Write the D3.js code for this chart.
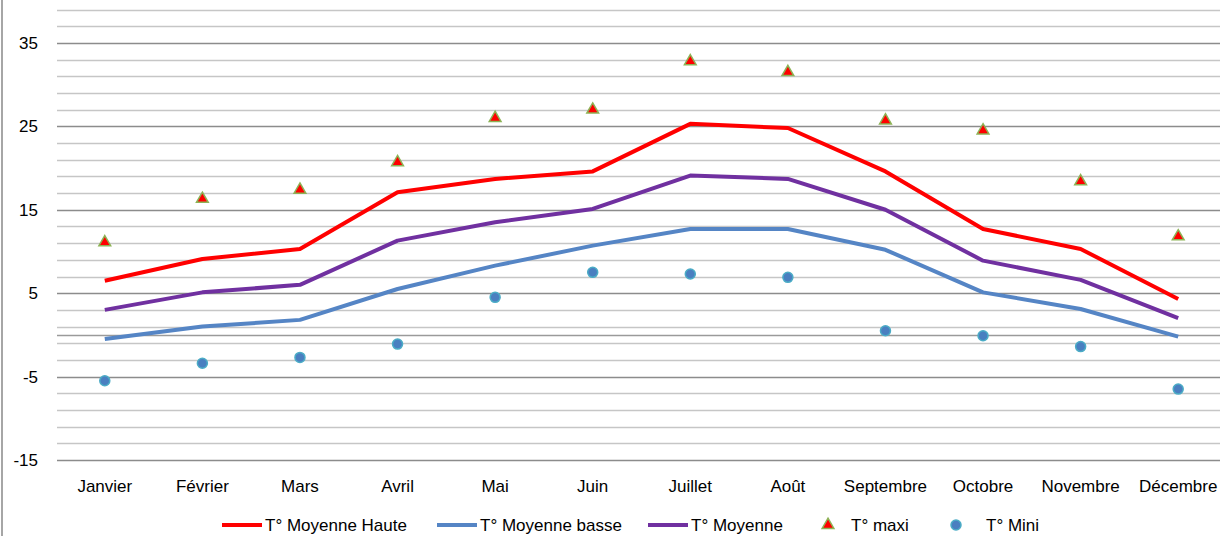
<!DOCTYPE html>
<html lang="fr">
<head>
    <meta charset="UTF-8">
    <title>Températures</title>
    <script src="https://d3js.org/d3.v7.min.js"></script>
    <style>
body { margin: 0; background: #fff; }
svg { display: block; font-family: "Liberation Sans", Arial, sans-serif; }
</style>
</head>
<body>
    <div id="container"></div>
    <script>
// Data
const months = ["Janvier", "Février", "Mars", "Avril", "Mai", "Juin", "Juillet", "Août", "Septembre", "Octobre", "Novembre", "Décembre"];
const moyHaute = [6.5, 9.1, 10.3, 17.1, 18.7, 19.6, 25.3, 24.8, 19.6, 12.7, 10.3, 4.3];
const moyBasse = [-0.5, 1.0, 1.8, 5.5, 8.3, 10.7, 12.7, 12.7, 10.2, 5.1, 3.1, -0.2];
const moyenne = [3.0, 5.1, 6.0, 11.3, 13.5, 15.1, 19.1, 18.7, 15.0, 8.9, 6.6, 2.0];
const maxi = [11.1, 16.3, 17.4, 20.7, 26.0, 27.0, 32.8, 31.5, 25.7, 24.5, 18.4, 11.8];
const mini = [-5.5, -3.4, -2.7, -1.1, 4.5, 7.5, 7.3, 6.9, 0.5, -0.1, -1.4, -6.5];
const yTickLabels = [-15, -5, 5, 15, 25, 35];

const width = 1220;
const height = 536;

const svg = d3.select("#container")
  .append("svg")
  .attr("width", width)
  .attr("height", height);

// scales
const x = d3.scalePoint().domain(months).range([56, 1227]).padding(0.5);
const y = d3.scaleLinear().domain([-15, 39]).range([460, 9.6]);

// chart border (left side only visible)
svg.append("line")
  .attr("x1", 2).attr("x2", 2)
  .attr("y1", 0).attr("y2", height)
  .attr("stroke", "#a6a6a6")
  .attr("stroke-width", 2);

// minor gridlines every 2
const minor = d3.range(-13, 40, 2).filter(v => !yTickLabels.includes(v));
svg.append("g").selectAll("line")
  .data(minor)
  .join("line")
  .attr("x1", 57).attr("x2", width)
  .attr("y1", d => Math.round(y(d)) + 0.5)
  .attr("y2", d => Math.round(y(d)) + 0.5)
  .attr("stroke", "#c6c6c6")
  .attr("stroke-width", 1.5);

// major gridlines
svg.append("g").selectAll("line")
  .data(yTickLabels)
  .join("line")
  .attr("x1", 57).attr("x2", width)
  .attr("y1", d => Math.round(y(d)) + 0.5)
  .attr("y2", d => Math.round(y(d)) + 0.5)
  .attr("stroke", "#8c8c8c")
  .attr("stroke-width", 1.5);

// zero axis line
svg.append("line")
  .attr("x1", 57).attr("x2", width)
  .attr("y1", Math.round(y(0)) + 0.5)
  .attr("y2", Math.round(y(0)) + 0.5)
  .attr("stroke", "#9a9a9a")
  .attr("stroke-width", 1.5);

// y labels
svg.append("g").selectAll("text")
  .data(yTickLabels)
  .join("text")
  .attr("x", 38)
  .attr("y", d => y(d))
  .attr("dy", "0.35em")
  .attr("text-anchor", "end")
  .attr("font-size", 17)
  .attr("fill", "#000")
  .text(d => d);

// x labels
svg.append("g").selectAll("text")
  .data(months)
  .join("text")
  .attr("x", d => x(d))
  .attr("y", 492)
  .attr("text-anchor", "middle")
  .attr("font-size", 17)
  .attr("fill", "#000")
  .text(d => d);

// lines
const line = d3.line()
  .x((d, i) => x(months[i]))
  .y(d => y(d));

const series = [
  { values: moyHaute, color: "#ff0000" },
  { values: moyBasse, color: "#5585c5" },
  { values: moyenne, color: "#7030a0" }
];

series.forEach(s => {
  svg.append("path")
    .datum(s.values)
    .attr("fill", "none")
    .attr("stroke", s.color)
    .attr("stroke-width", 4)
    .attr("stroke-linejoin", "round")
    .attr("d", line);
});

// triangles (maxi)
const tri = d3.symbol().type(d3.symbolTriangle).size(60);
svg.append("g").selectAll("path")
  .data(maxi)
  .join("path")
  .attr("d", tri)
  .attr("transform", (d, i) => `translate(${x(months[i])},${y(d)})`)
  .attr("fill", "#ff0000")
  .attr("stroke", "#8db356")
  .attr("stroke-width", 1.5);

// circles (mini)
svg.append("g").selectAll("circle")
  .data(mini)
  .join("circle")
  .attr("cx", (d, i) => x(months[i]))
  .attr("cy", d => y(d))
  .attr("r", 5)
  .attr("fill", "#4a7fc0")
  .attr("stroke", "#4bacc6")
  .attr("stroke-width", 1.5);

// legend
const legendY = 525;
const legend = svg.append("g").attr("font-size", 17);

const lineItems = [
  { label: "T° Moyenne Haute", color: "#ff0000", x: 222 },
  { label: "T° Moyenne basse", color: "#5585c5", x: 437 },
  { label: "T° Moyenne", color: "#7030a0", x: 648 }
];
lineItems.forEach(it => {
  legend.append("line")
    .attr("x1", it.x).attr("x2", it.x + 40)
    .attr("y1", legendY).attr("y2", legendY)
    .attr("stroke", it.color)
    .attr("stroke-width", 4);
  legend.append("text")
    .attr("x", it.x + 43)
    .attr("y", legendY)
    .attr("dy", "0.35em")
    .text(it.label);
});

legend.append("path")
  .attr("d", tri)
  .attr("transform", `translate(828,${legendY})`)
  .attr("fill", "#ff0000")
  .attr("stroke", "#8db356")
  .attr("stroke-width", 1.5);
legend.append("text")
  .attr("x", 851).attr("y", legendY).attr("dy", "0.35em")
  .text("T° maxi");

legend.append("circle")
  .attr("cx", 956).attr("cy", legendY).attr("r", 5)
  .attr("fill", "#4a7fc0")
  .attr("stroke", "#4bacc6")
  .attr("stroke-width", 1.5);
legend.append("text")
  .attr("x", 986).attr("y", legendY).attr("dy", "0.35em")
  .text("T° Mini");
</script>
</body>
</html>
